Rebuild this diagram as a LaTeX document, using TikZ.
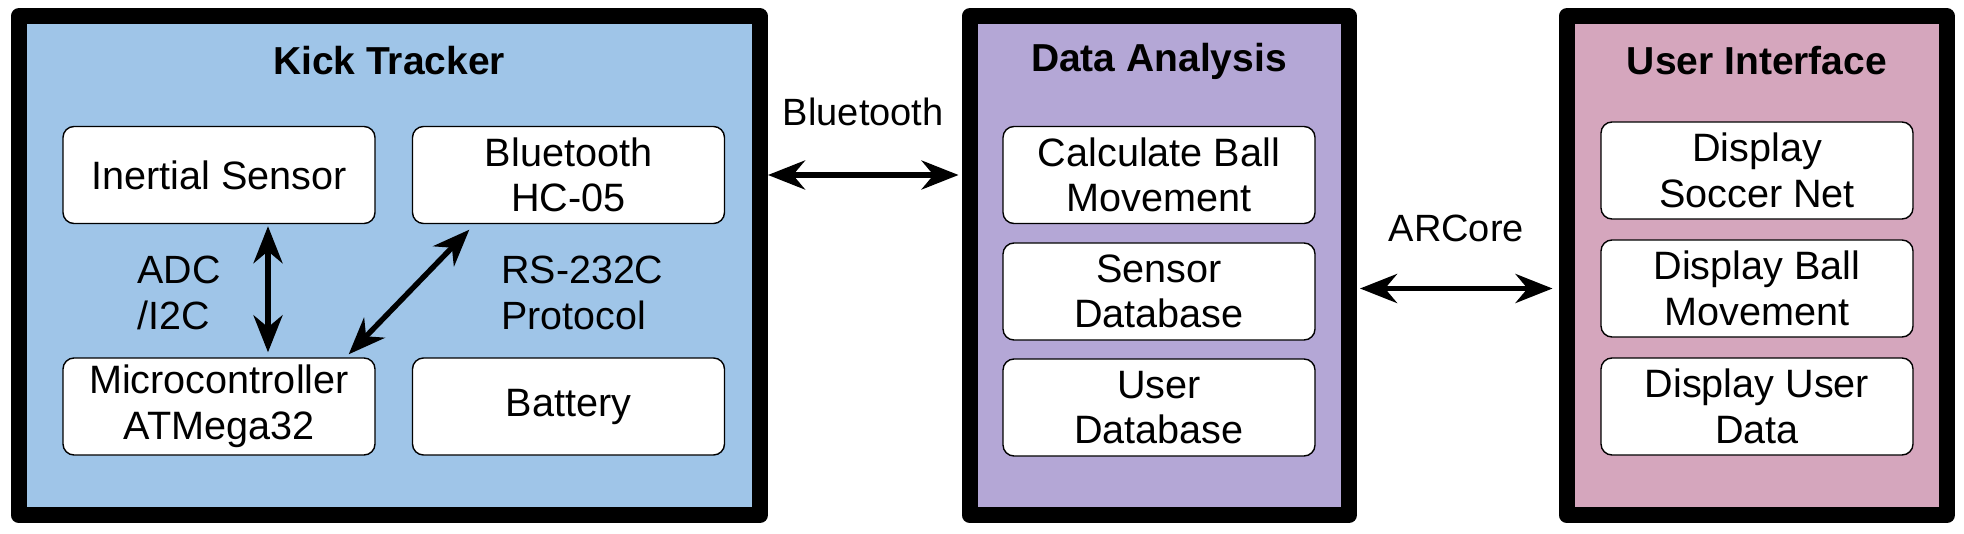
\documentclass[tikz,border=0pt]{standalone}
\usepackage{fontspec}
\setmainfont{Liberation Sans}
\usepackage{xcolor}
\usetikzlibrary{arrows.meta}

\definecolor{trackerblue}{HTML}{9FC5E8}
\definecolor{analysispurple}{HTML}{B4A7D6}
\definecolor{uipink}{HTML}{D5A6BD}

\begin{document}
\begin{tikzpicture}[x=0.5pt,y=-0.5pt,
		block/.style={draw=black,line width=8pt,line join=round,minimum height=249.25pt},
		part/.style={draw=black,fill=white,line width=0.7pt,rounded corners=5.5pt,minimum width=156pt,minimum height=48.5pt,align=center,inner sep=1pt,font=\fontsize{19.8}{22.8}\selectfont},
		title/.style={inner sep=0pt,font=\fontsize{19.5}{22.5}\selectfont\bfseries},
		lbl/.style={inner sep=0pt,align=left,font=\fontsize{19}{23}\selectfont},
		link/.style={{Stealth[length=18.5pt,width=14.5pt,inset=6pt]}-{Stealth[length=18.5pt,width=14.5pt,inset=6pt]},line width=2.7pt}]
		\useasboundingbox (0,0) rectangle (1964,534);
		
		% the three blocks
		\node[block,fill=trackerblue,minimum width=370.75pt] (tracker) at (389.25,265.75) {};
		\node[block,fill=analysispurple,minimum width=189.75pt] (analysis) at (1159.25,265.75) {};
		\node[block,fill=uipink,minimum width=190.25pt] (ui) at (1756.75,265.75) {};
		
		\node[title] (trackertitle) at (389,61) {Kick Tracker};
		\node[title] (analysistitle) at (1159,61) {Data Analysis};
		\node[title] (uititle) at (1757,61) {User Interface};
		
		% kick tracker
		\node[part] (inertial) at (219,175) {Inertial Sensor};
		\node[part] (btmod) at (568.5,175) {Bluetooth\\HC-05};
		\node[part] (mcu) at (219,406.5) {Microcontroller\\ATMega32};
		\node[part] (battery) at (568.5,406.5) {Battery};
		
		\draw[link] ([xshift=24.5pt,yshift=-1pt]inertial.south) -- ([xshift=24.5pt,yshift=2.5pt]mcu.north);
		\draw[link] ([xshift=28.75pt,yshift=-2.75pt]btmod.south west) -- ([xshift=-13.5pt,yshift=1.5pt]mcu.north east);
		\node[lbl,anchor=west,font=\fontsize{19.7}{23}\selectfont] (adc) at (137,293) {ADC\\/I2C};
		\node[lbl,anchor=west,font=\fontsize{19.7}{23}\selectfont] (rs) at (501,293) {RS-232C\\Protocol};
		
		% data analysis
		\node[part] (calc) at (1159,175) {Calculate Ball\\Movement};
		\node[part] (sensordb) at (1159,291.5) {Sensor\\Database};
		\node[part] (userdb) at (1159,407.5) {User\\Database};
		
		% user interface
		\node[part] (soccernet) at (1757,170.5) {Display\\Soccer Net};
		\node[part] (ballmove) at (1757,288.5) {Display Ball\\Movement};
		\node[part] (userdata) at (1757,406.5) {Display User\\Data};
		
		% links between blocks
		\draw[link] (tracker.east |- calc) -- node[lbl,above=23pt] (btlabel) {Bluetooth} ([xshift=-1.5pt]calc -| analysis.west);
		\draw[link] ([xshift=1.5pt]analysis.east |- ballmove) -- node[lbl,above=22pt] (arlabel) {ARCore} ([xshift=-3pt]ballmove -| ui.west);
		
	\end{tikzpicture}
\end{document}
